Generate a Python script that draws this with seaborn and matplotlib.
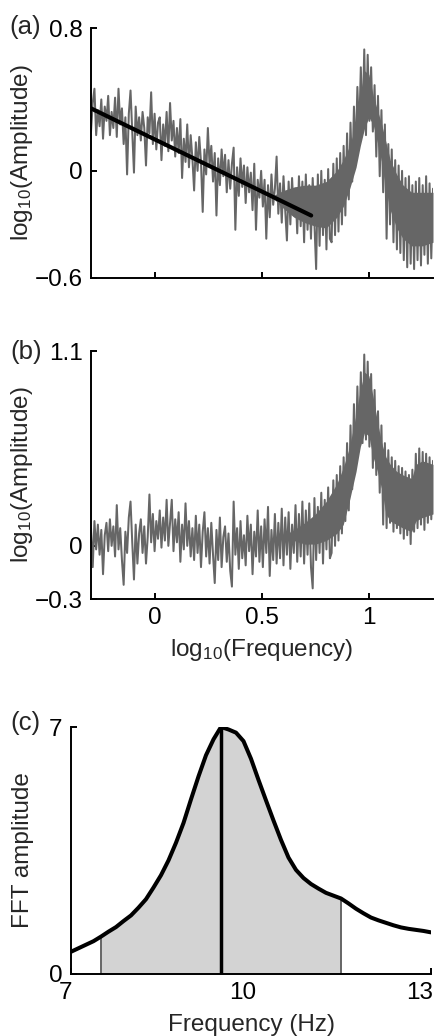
import numpy as np
import pandas as pd
import matplotlib
matplotlib.use("Agg")
import matplotlib.pyplot as plt
import matplotlib.transforms as mtrans
import seaborn as sns

# ---------------- data ----------------
# panel (a)/(b): log10 frequency grid (uniform index) and amplitudes
logf = np.linspace(-0.3, 1.3, 200)

amp_a = [
    0.22, 0.38, 0.46, 0.20, 0.34, 0.25, 0.40, 0.18, 0.36, 0.28,
    0.42, 0.20, 0.33, 0.24, 0.41, 0.19, 0.46, 0.26, 0.35, 0.15,
    0.30, -0.02, 0.32, 0.45, 0.22, -0.01, 0.36, 0.20, 0.30, 0.17,
    0.33, 0.24, 0.03, 0.30, 0.21, 0.44, 0.15, 0.32, 0.12, 0.27,
    0.30, 0.06, 0.26, 0.14, 0.33, 0.11, 0.38, 0.17, 0.28, 0.08,
    0.24, 0.10, 0.29, -0.04, 0.18, 0.05, 0.26, 0.02, 0.20, 0.07,
    -0.11, 0.16, 0.00, 0.19, 0.05, -0.23, 0.12, -0.02, 0.24, 0.03,
    0.14, -0.06, 0.10, -0.25, 0.07, -0.08, 0.12, -0.03, 0.09, -0.12,
    0.06, -0.10, 0.04, 0.13, -0.33, 0.02, -0.14, 0.07, -0.09, 0.03,
    -0.18, 0.02, -0.12, -0.01, -0.22, 0.04, -0.33, -0.05, -0.15, 0.00,
    -0.20, -0.05, -0.38, -0.08, -0.26, -0.02, -0.19, -0.10, 0.08, -0.24,
    -0.07, -0.29, -0.03, -0.22, -0.39, -0.06, -0.30, -0.04, -0.25, -0.10,
    -0.35, -0.03, -0.31, -0.06, -0.40, -0.02, -0.33, -0.08, -0.38, -0.04,
    -0.30, -0.55, -0.02, -0.42, 0.00, -0.36, -0.05, -0.44, 0.01, -0.38,
    -0.40, 0.04, -0.36, 0.07, -0.34, 0.10, -0.30, 0.14, -0.25, 0.21,
    -0.16, 0.27, -0.06, 0.36, 0.08, 0.47, 0.20, 0.58, 0.24, 0.68,
    0.20, 0.65, 0.28, 0.58, 0.22, 0.48, 0.08, 0.42, -0.03, 0.34,
    -0.12, 0.26, -0.38, 0.15, -0.30, 0.12, -0.40, 0.06, -0.44, 0.03,
    -0.46, 0.00, -0.50, -0.04, -0.54, -0.03, -0.52, -0.08, -0.55, -0.06,
    -0.50, -0.04, -0.53, -0.08, -0.47, -0.03, -0.52, -0.07, -0.49, -0.10,
]

# dense (high-frequency) part of panel (a): inner envelope of the trace
core_x_a = [0.55, 0.60, 0.65, 0.70, 0.75, 0.80, 0.85, 0.88, 0.91, 0.94, 0.96,
            0.98, 1.00, 1.02, 1.04, 1.06, 1.08, 1.10, 1.13, 1.16, 1.20, 1.25, 1.30]
core_lo_a = [-0.15, -0.21, -0.26, -0.29, -0.31, -0.32, -0.26, -0.20, -0.10, 0.02, 0.14,
             0.24, 0.30, 0.26, 0.16, 0.05, -0.10, -0.22, -0.32, -0.38, -0.42, -0.42, -0.40]
core_hi_a = [-0.14, -0.11, -0.09, -0.08, -0.08, -0.06, 0.00, 0.06, 0.14, 0.26, 0.42,
             0.56, 0.54, 0.42, 0.34, 0.26, 0.16, 0.06, -0.02, -0.08, -0.12, -0.12, -0.12]

fit_x = [-0.3, 0.73]
fit_y = [0.35, -0.25]

amp_b = [
    0.10, -0.12, 0.14, -0.02, 0.12, -0.05, 0.09, -0.16, 0.06, 0.13,
    -0.03, 0.15, 0.00, 0.11, -0.06, 0.23, -0.02, 0.10, -0.08, -0.22,
    0.08, -0.04, 0.16, 0.25, 0.02, -0.19, 0.12, -0.10, 0.07, 0.15,
    -0.04, 0.11, -0.10, 0.05, 0.29, 0.02, 0.18, -0.03, 0.14, 0.04,
    0.20, -0.01, 0.16, 0.03, 0.26, 0.00, 0.13, 0.26, -0.03, 0.15,
    0.02, 0.19, -0.09, 0.12, -0.02, 0.24, 0.00, 0.14, -0.06, 0.10,
    -0.08, 0.17, -0.04, 0.12, -0.12, 0.08, 0.19, -0.06, 0.10, -0.10,
    0.13, -0.05, -0.21, 0.09, -0.08, 0.16, -0.12, 0.05, 0.11, -0.09,
    0.07, -0.14, -0.23, 0.25, -0.05, 0.10, -0.13, 0.14, -0.07, 0.06,
    -0.11, 0.17, -0.03, 0.12, -0.16, 0.08, -0.06, 0.20, -0.09, 0.11,
    -0.12, 0.15, -0.04, 0.22, -0.17, 0.09, -0.08, 0.18, -0.10, 0.13,
    -0.07, 0.21, -0.11, 0.16, -0.05, 0.19, -0.13, 0.12, -0.04, 0.23,
    -0.09, 0.18, -0.06, 0.25, -0.10, 0.20, -0.05, 0.24, -0.12, -0.24,
    0.27, -0.08, 0.22, -0.04, 0.30, -0.10, 0.26, -0.02, 0.33, -0.07,
    -0.04, 0.37, 0.00, 0.40, 0.03, 0.45, 0.07, 0.50, 0.14, 0.58,
    0.20, 0.68, 0.32, 0.80, 0.44, 0.90, 0.55, 0.98, 0.58, 1.08,
    0.60, 1.04, 0.56, 0.97, 0.44, 0.88, 0.40, 0.76, 0.30, 0.68,
    0.12, 0.58, 0.10, 0.54, 0.13, 0.50, 0.08, 0.48, 0.10, 0.45,
    0.07, 0.44, 0.04, 0.42, 0.06, 0.40, 0.01, 0.43, 0.08, 0.52,
    0.10, 0.55, 0.12, 0.53, 0.09, 0.52, 0.13, 0.50, 0.15, 0.48,
]

core_x_b = [0.60, 0.65, 0.70, 0.75, 0.80, 0.85, 0.88, 0.91, 0.94, 0.96, 0.98,
            1.00, 1.02, 1.04, 1.06, 1.08, 1.10, 1.13, 1.16, 1.20, 1.22, 1.25, 1.30]
core_lo_b = [0.05, 0.03, 0.01, 0.01, 0.03, 0.07, 0.12, 0.26, 0.42, 0.56, 0.64,
             0.62, 0.50, 0.42, 0.32, 0.18, 0.14, 0.12, 0.10, 0.08, 0.14, 0.16, 0.18]
core_hi_b = [0.06, 0.09, 0.13, 0.18, 0.25, 0.35, 0.44, 0.56, 0.74, 0.88, 0.98,
             0.96, 0.84, 0.70, 0.58, 0.50, 0.46, 0.42, 0.40, 0.38, 0.46, 0.48, 0.46]

# panel (c): FFT amplitude around alpha peak
freq_c = [7.0, 7.125, 7.25, 7.375, 7.5, 7.625, 7.75, 7.875, 8.0, 8.125, 8.25,
          8.375, 8.5, 8.625, 8.75, 8.875, 9.0, 9.125, 9.25, 9.375, 9.5, 9.625,
          9.75, 9.875, 10.0, 10.125, 10.25, 10.375, 10.5, 10.625, 10.75, 10.875,
          11.0, 11.125, 11.25, 11.375, 11.5, 11.625, 11.75, 11.875, 12.0,
          12.125, 12.25, 12.375, 12.5, 12.625, 12.75, 12.875, 13.0]
amp_c = [0.63, 0.73, 0.83, 0.93, 1.06, 1.20, 1.33, 1.50, 1.66, 1.88, 2.12,
         2.45, 2.80, 3.22, 3.72, 4.28, 4.95, 5.60, 6.20, 6.65, 7.00, 6.93,
         6.84, 6.60, 6.10, 5.50, 4.92, 4.35, 3.80, 3.30, 2.95, 2.72,
         2.55, 2.42, 2.30, 2.22, 2.14, 2.00, 1.85, 1.72, 1.60,
         1.52, 1.45, 1.38, 1.32, 1.28, 1.25, 1.22, 1.18]
peak_freq = 9.5
band_lo, band_hi = 7.5, 11.5

# ---------------- style ----------------
sns.set_theme(style="ticks")
plt.rcParams["font.family"] = ["Liberation Sans", "DejaVu Sans"]
plt.rcParams["mathtext.fontset"] = "custom"
plt.rcParams["mathtext.rm"] = "Liberation Sans"
plt.rcParams["mathtext.it"] = "Liberation Sans"
plt.rcParams["axes.unicode_minus"] = True

FS = 17.5
FS_PANEL = 18.5
GRAY = "#666666"

fig = plt.figure(figsize=(4.36, 10.36), dpi=100)
W, H = 436, 1036
axA = fig.add_axes([91 / W, 1 - 278 / H, 342 / W, 250 / H])
axB = fig.add_axes([91 / W, 1 - 599 / H, 342 / W, 248 / H])
axC = fig.add_axes([71 / W, 1 - 974 / H, 360 / W, 247 / H])

dfA = pd.DataFrame({"x": logf, "y": amp_a})
dfB = pd.DataFrame({"x": logf, "y": amp_b})
dfC = pd.DataFrame({"f": freq_c, "a": amp_c})

axA.fill_between(core_x_a, core_lo_a, core_hi_a, color=GRAY, lw=0)
sns.lineplot(data=dfA, x="x", y="y", ax=axA, color=GRAY, lw=1.45,
             estimator=None, sort=False)
sns.lineplot(x=fit_x, y=fit_y, ax=axA, color="black", lw=3.0,
             estimator=None, sort=False)

axB.fill_between(core_x_b, core_lo_b, core_hi_b, color=GRAY, lw=0)
sns.lineplot(data=dfB, x="x", y="y", ax=axB, color=GRAY, lw=1.45,
             estimator=None, sort=False)

sub = dfC[(dfC.f >= band_lo) & (dfC.f <= band_hi)]
axC.fill_between(sub.f, 0, sub.a, color="#d3d3d3", lw=0)
edge = dfC[dfC.f.isin([band_lo, band_hi])]
axC.vlines(edge.f, 0, edge.a, color=GRAY, lw=1.4)
pk = dfC[dfC.f == peak_freq]
axC.vlines(pk.f, 0, pk.a, color="black", lw=2.5)
sns.lineplot(data=dfC, x="f", y="a", ax=axC, color="black", lw=2.9,
             estimator=None, sort=False)

# ---------------- axes ----------------
axA.set_xlim(-0.3, 1.3)
axA.set_ylim(-0.6, 0.8)
axA.set_xticks([0, 0.5, 1])
axA.set_xticklabels([])
axA.set_yticks([-0.6, 0, 0.8])
axA.set_yticklabels(["\u22120.6", "0", "0.8"])

axB.set_xlim(-0.3, 1.3)
axB.set_ylim(-0.3, 1.1)
axB.set_xticks([0, 0.5, 1])
axB.set_xticklabels(["0", "0.5", "1"])
axB.set_yticks([-0.3, 0, 1.1])
axB.set_yticklabels(["\u22120.3", "0", "1.1"])

axC.set_xlim(7, 13)
axC.set_ylim(0, 7)
axC.set_xticks([7, 10, 13])
axC.set_xticklabels(["7", "10", "13"])
axC.set_yticks([0, 7])
axC.set_yticklabels(["0", "7"])

for ax in (axA, axB, axC):
    sns.despine(ax=ax)
    for s in ("left", "bottom"):
        ax.spines[s].set_linewidth(1.4)
        ax.spines[s].set_color("black")
    ax.tick_params(direction="in", length=4, width=1.4, labelsize=FS,
                   pad=6, colors="black")
    ax.set_xlabel("")
    ax.set_ylabel("")

# nudge the (c) x tick labels left as in the reference
for lab, dx in zip(axC.get_xticklabels(), [-6, -8, -11]):
    lab.set_transform(lab.get_transform() +
                      mtrans.ScaledTranslation(dx / 100, 0, fig.dpi_scale_trans))

ylab = r"log$_{\mathregular{10}}$(Amplitude)"
axA.set_ylabel(ylab, fontsize=FS)
axA.yaxis.set_label_coords(-0.164, 0.5)
axB.set_ylabel(ylab, fontsize=FS)
axB.yaxis.set_label_coords(-0.164, 0.5)
axB.set_xlabel(r"log$_{\mathregular{10}}$(Frequency)", fontsize=FS)
axB.xaxis.set_label_coords(0.5, -0.155)

axC.set_ylabel("FFT amplitude", fontsize=FS)
axC.yaxis.set_label_coords(-0.103, 0.5)
axC.set_xlabel("Frequency (Hz)", fontsize=FS)
axC.xaxis.set_label_coords(0.5, -0.160)

fig.text(9 / W, 1 - 27 / H, "(a)", fontsize=FS_PANEL, ha="left", va="center")
fig.text(10 / W, 1 - 352 / H, "(b)", fontsize=FS_PANEL, ha="left", va="center")
fig.text(10 / W, 1 - 723 / H, "(c)", fontsize=FS_PANEL, ha="left", va="center")

fig.savefig("out.png", dpi=100)
